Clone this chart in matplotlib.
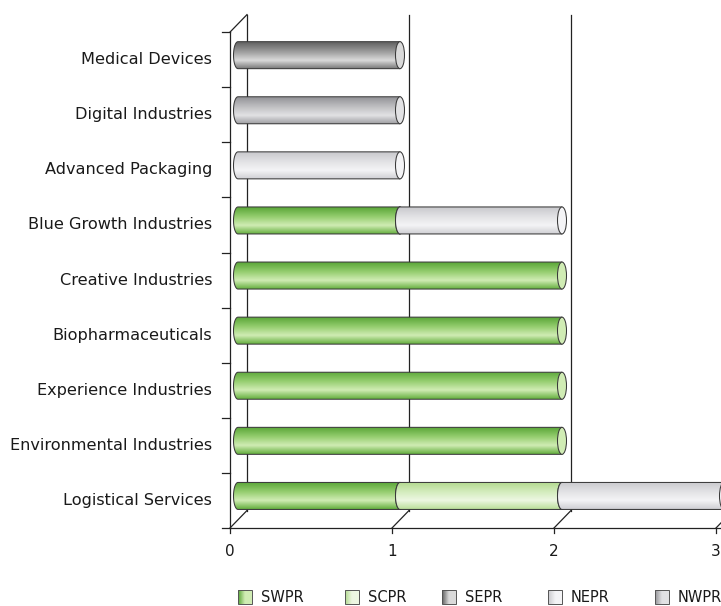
import numpy as np
import matplotlib
matplotlib.use('Agg')
import matplotlib.pyplot as plt
from matplotlib.path import Path
from matplotlib.patches import PathPatch, Ellipse, Rectangle
from matplotlib.colors import LinearSegmentedColormap

plt.rcParams['font.family'] = ['DejaVu Sans']

categories = ['Logistical Services', 'Environmental Industries', 'Experience Industries',
              'Biopharmaceuticals', 'Creative Industries', 'Blue Growth Industries',
              'Advanced Packaging', 'Digital Industries', 'Medical Devices']
series = ['SWPR', 'SCPR', 'SEPR', 'NEPR', 'NWPR']
SWPR = [1, 2, 2, 2, 2, 1, 0, 0, 0]
SCPR = [1, 0, 0, 0, 0, 0, 0, 0, 0]
SEPR = [0, 0, 0, 0, 0, 0, 0, 0, 1]
NEPR = [1, 0, 0, 0, 0, 1, 1, 0, 0]
NWPR = [0, 0, 0, 0, 0, 0, 0, 1, 0]
values = [SWPR, SCPR, SEPR, NEPR, NWPR]
xticks = [0, 1, 2, 3]

# shading stops, top to bottom of the cylinder
stops = {
    'SWPR': ['#5aa638', '#94cd6e', '#d0ecb4', '#66b040'],
    'SCPR': ['#b2d98f', '#d3ecbc', '#edf7e2', '#bcdf9c'],
    'SEPR': ['#626262', '#9c9c9c', '#dadada', '#777777'],
    'NEPR': ['#c9c9cd', '#e2e2e5', '#f4f4f6', '#d0d0d4'],
    'NWPR': ['#949498', '#bebec1', '#e2e2e4', '#9e9ea2'],
}
cmaps = {k: LinearSegmentedColormap.from_list(k, list(zip([0, 0.35, 0.68, 1], v)))
         for k, v in stops.items()}

fig = plt.figure(figsize=(7.21, 6.06), dpi=100)
ax = fig.add_axes([0, 0, 1, 1])
ppx = 162.0   # pixels per value unit
ppy = 55.1    # pixels per category
ax.set_xlim(-230 / ppx, (721 - 230) / ppx)
ax.set_ylim(-0.5 - 78 / ppy, -0.5 + 528 / ppy)
ax.axis('off')

n = len(categories)
dx, dy = 17 / ppx, 17.5 / ppy          # depth of the 3d box
line_kw = dict(color='#222222', lw=0.9, zorder=1)

# box frame: front axis, back wall gridlines, floor diagonals
ax.plot([0, 0], [-0.5, n - 0.5], **line_kw)
ax.plot([0, dx], [n - 0.5, n - 0.5 + dy], **line_kw)
ax.plot([0, 3.2], [-0.5, -0.5], **line_kw)
for v in xticks:
    ax.plot([v + dx, v + dx], [-0.5 + dy, n - 0.5 + dy], **line_kw)
    ax.plot([v, v], [-0.5, -0.5 - 5 / ppy], **line_kw)
    ax.plot([v, v + dx], [-0.5, -0.5 + dy], **line_kw)
    ax.text(v, -0.5 - 23 / ppy, str(v), ha='center', va='center', fontsize=11, color='#1a1a1a')
for k in range(n + 1):
    ax.plot([-8 / ppx, 0], [k - 0.5, k - 0.5], **line_kw)
for i, c in enumerate(categories):
    ax.text(-18 / ppx, i, c, ha='right', va='center', fontsize=11.6, color='#1a1a1a')

# cylinders
bh = 27 / ppy
ew = 4.5 / ppx
ox, oy = 8 / ppx, 4.5 / ppy
grad = np.linspace(0, 1, 64).reshape(-1, 1)
t = np.linspace(1.5 * np.pi, 0.5 * np.pi, 40)
z = 2
for i in range(n):
    yc = i + oy
    left = 0
    for s, vals in zip(series, values):
        v = vals[i]
        if v == 0:
            continue
        x0, x1 = left + ox, left + v + ox
        yt, yb = yc + bh / 2, yc - bh / 2
        verts = [(x0, yt), (x1, yt), (x1, yb), (x0, yb)]
        verts += list(zip(x0 + ew * np.cos(t), yc + bh / 2 * np.sin(t)))
        path = Path(verts + [verts[0]], [Path.MOVETO] + [Path.LINETO] * (len(verts) - 1) + [Path.CLOSEPOLY])
        body = PathPatch(path, facecolor='none', edgecolor='#3a3a3a', lw=0.75, zorder=z + 1)
        ax.add_patch(body)
        im = ax.imshow(grad, cmap=cmaps[s], extent=(x0 - ew, x1, yb, yt), aspect='auto',
                       origin='upper', zorder=z, interpolation='bilinear')
        im.set_clip_path(body)
        cap = Ellipse((x1, yc), 2 * ew, bh, facecolor=stops[s][2], edgecolor='#3a3a3a',
                      lw=0.75, zorder=z + 2)
        ax.add_patch(cap)
        z += 3
        left += v

# legend with horizontally shaded swatches
leg_x = [238, 345, 442, 548, 655]
ly = -0.5 - 69 / ppy
sq = 14
hgrad = np.linspace(0, 1, 32).reshape(1, -1)
for s, lx in zip(series, leg_x):
    x0 = (lx - 230) / ppx
    w, h = sq / ppx, sq / ppy
    cm = LinearSegmentedColormap.from_list(s + '_l', [stops[s][0], stops[s][2], stops[s][2]])
    ax.imshow(hgrad, cmap=cm, extent=(x0, x0 + w, ly - h / 2, ly + h / 2), aspect='auto', zorder=5)
    ax.add_patch(Rectangle((x0, ly - h / 2), w, h, facecolor='none', edgecolor='#555555', lw=0.7, zorder=6))
    ax.text(x0 + 23 / ppx, ly, s, ha='left', va='center', fontsize=10.5, color='#1a1a1a')

fig.savefig('out.png', dpi=100)
